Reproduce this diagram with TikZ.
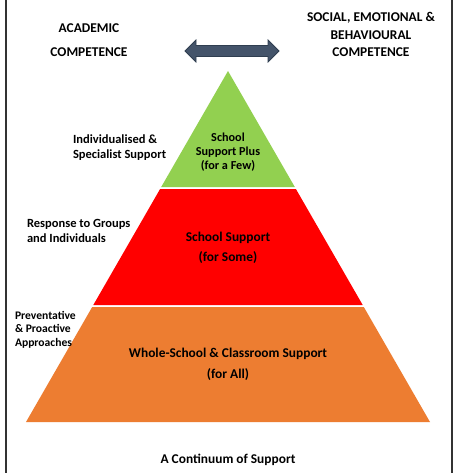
\documentclass[tikz,border=0pt]{standalone}
\usepackage{fontspec}
\setmainfont{Carlito}
\definecolor{tiergreen}{RGB}{146,208,80}
\definecolor{tierred}{RGB}{255,0,0}
\definecolor{tierorange}{RGB}{237,125,49}
\definecolor{arrowslate}{RGB}{68,84,106}
\definecolor{arrowedge}{RGB}{47,62,80}
\definecolor{framegrey}{RGB}{51,51,51}
\tikzset{
  lbl/.style={inner sep=0pt,outer sep=0pt,anchor=base west,font=\bfseries\fontsize{12.5}{15}\selectfont},
  lblc/.style={lbl,anchor=base,font=\bfseries\fontsize{13.4}{16}\selectfont},
  tiertxt/.style={lblc},
  smalltxt/.style={font=\bfseries\fontsize{11.6}{14}\selectfont},
  tier/.style={draw=none},
}
\begin{document}
\begin{tikzpicture}[x=1pt,y=-1pt]
\path[use as bounding box] (0,0) rectangle (457,473);
\path[fill=white,draw=none] (0,0) rectangle (457,473);
% frame sides
\draw[draw=framegrey,line width=1.5pt] (6,0) -- (6,473);
\draw[draw=framegrey,line width=1.5pt] (452,0) -- (452,473);
% headings
\node[lblc] (acad1) at (89,33) {ACADEMIC};
\node[lblc] (acad2) at (89,57) {COMPETENCE};
\node[lblc] (seb1) at (371,22) {SOCIAL, EMOTIONAL \&};
\node[lblc] (seb2) at (371,40) {BEHAVIOURAL};
\node[lblc] (seb3) at (371,57) {COMPETENCE};
% double arrow
\path[fill=arrowslate,draw=arrowedge,line width=0.75pt] (185,51) -- (196,40) -- (196,45.5) -- (268,45.5) -- (268,40) -- (279,51) -- (268,62) -- (268,56.5) -- (196,56.5) -- (196,62) -- cycle;
% pyramid tiers
\path[tier,fill=tiergreen] (228,71) -- (294.8,187) -- (161.2,187) -- cycle;
\path[tier,fill=tierred] (160.1,189) -- (295.9,189) -- (362.7,305) -- (93.3,305) -- cycle;
\path[tier,fill=tierorange] (92.2,307) -- (363.8,307) -- (430,422) -- (26,422) -- cycle;
% tier texts
\node[tiertxt,font=\bfseries\fontsize{12.2}{14}\selectfont] (plus1) at (228,142) {School};
\node[tiertxt,font=\bfseries\fontsize{12.2}{14}\selectfont] (plus2) at (228,156) {Support Plus};
\node[tiertxt,font=\bfseries\fontsize{12.2}{14}\selectfont] (plus3) at (228,169) {(for a Few)};
\node[tiertxt] (some1) at (228,241) {School Support};
\node[tiertxt] (some2) at (228,261) {(for Some)};
\node[tiertxt] (all1) at (228,357) {Whole-School \& Classroom Support};
\node[tiertxt] (all2) at (228,378) {(for All)};
% side labels
\node[lbl] (indiv1) at (73,144) {Individualised \&};
\node[lbl] (indiv2) at (73,159) {Specialist Support};
\node[lbl] (resp1) at (27,227) {Response to Groups};
\node[lbl] (resp2) at (27,242) {and Individuals};
\node[lbl,smalltxt] (prev1) at (15,319) {Preventative};
\node[lbl,smalltxt] (prev2) at (15,332) {\& Proactive};
\node[lbl,smalltxt] (prev3) at (15,346) {Approaches};
% caption
\node[lblc] (caption) at (228,463) {A Continuum of Support};
\end{tikzpicture}
\end{document}
